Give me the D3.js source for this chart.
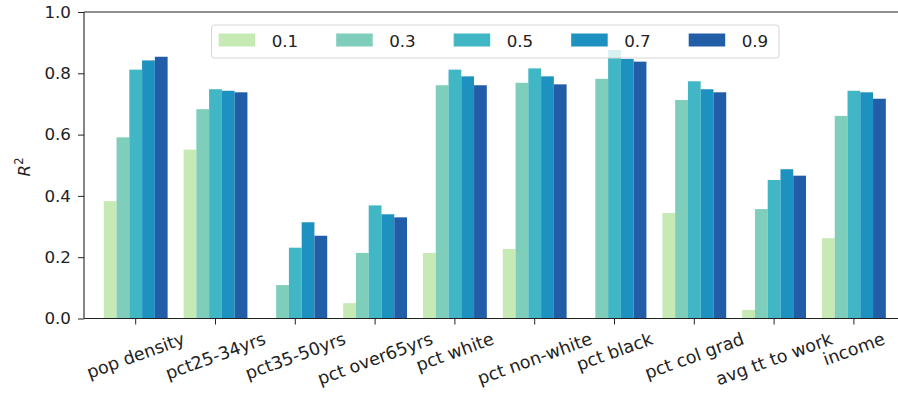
<!DOCTYPE html>
<html>
<head>
<meta charset="utf-8">
<script src="https://cdn.jsdelivr.net/npm/d3@7"></script>
<style>
  html, body { margin: 0; padding: 0; background: #fff; }
  svg { display: block; font-family: "DejaVu Sans", sans-serif; }
</style>
</head>
<body>
<svg id="chart" width="898" height="396"></svg>
<script>
// Variables on the x axis
const categories = ["pop density", "pct25-34yrs", "pct35-50yrs", "pct over65yrs", "pct white",
  "pct non-white", "pct black", "pct col grad", "avg tt to work", "income"];
// Series keys (legend labels)
const seriesKeys = ["0.1", "0.3", "0.5", "0.7", "0.9"];
// R² per series, one value per category
const s01 = [0.383, 0.551, 0.0, 0.050, 0.214, 0.227, 0.0, 0.344, 0.028, 0.262];
const s03 = [0.591, 0.683, 0.109, 0.214, 0.761, 0.769, 0.782, 0.713, 0.357, 0.661];
const s05 = [0.812, 0.748, 0.231, 0.369, 0.812, 0.816, 0.876, 0.774, 0.452, 0.743];
const s07 = [0.842, 0.743, 0.314, 0.340, 0.790, 0.790, 0.847, 0.748, 0.487, 0.738];
const s09 = [0.854, 0.738, 0.270, 0.330, 0.761, 0.764, 0.838, 0.738, 0.466, 0.717];
const yTicks = [0.0, 0.2, 0.4, 0.6, 0.8, 1.0];
const colors = ["#c7e9b4", "#7fcdbb", "#41b6c4", "#1d91c0", "#225ea8"];

const seriesValues = [s01, s03, s05, s07, s09];

const svg = d3.select("#chart");
const axLeft = 84, axRight = 898, axTop = 12, axBottom = 318.5;
const tickFont = 16.7, labelFont = 17.5;

const x = d3.scaleBand().domain(categories).range([95.8, 893.8]).paddingInner(0).paddingOuter(0);
const xs = d3.scaleBand().domain(seriesKeys)
  .range([x.bandwidth() * 0.1, x.bandwidth() * 0.9]).padding(0);
const y = d3.scaleLinear().domain([0, 1]).range([axBottom, axTop]);

// Bars
const groups = svg.append("g").selectAll("g")
  .data(categories).join("g")
  .attr("transform", d => `translate(${x(d)},0)`);

groups.selectAll("rect")
  .data((c, ci) => seriesKeys.map((k, si) => ({ k, si, v: seriesValues[si][ci] })))
  .join("rect")
  .filter(d => d.v > 0)
  .attr("x", d => xs(d.k))
  .attr("width", xs.bandwidth())
  .attr("y", d => y(d.v))
  .attr("height", d => y(0) - y(d.v))
  .attr("fill", d => colors[d.si]);

// Spines
const spine = svg.append("g").attr("stroke", "#222").attr("stroke-width", 1.1);
spine.append("line").attr("x1", axLeft).attr("x2", axRight).attr("y1", axTop).attr("y2", axTop);
spine.append("line").attr("x1", axLeft).attr("x2", axRight).attr("y1", axBottom).attr("y2", axBottom);
spine.append("line").attr("x1", axLeft).attr("x2", axLeft).attr("y1", axTop).attr("y2", axBottom);

// Y axis
const yAxis = d3.axisLeft(y).tickValues(yTicks).tickFormat(d3.format(".1f")).tickSize(6).tickPadding(7);
const gy = svg.append("g").attr("transform", `translate(${axLeft},0)`).call(yAxis);
gy.select(".domain").remove();
gy.selectAll("line").attr("stroke", "#222");
gy.selectAll("text").attr("font-size", tickFont).attr("fill", "#222").attr("font-family", "DejaVu Sans");

// X axis ticks
const gx = svg.append("g").attr("transform", `translate(0,${axBottom})`)
  .call(d3.axisBottom(x).tickSize(6).tickFormat(""));
gx.select(".domain").remove();
gx.selectAll("line").attr("stroke", "#222");

// Rotated x labels: rotated bounding box centred on the tick
const rot = 20 * Math.PI / 180;
const labels = svg.append("g");
categories.forEach(c => {
  const t = labels.append("text")
    .attr("font-size", labelFont).attr("fill", "#222")
    .attr("text-anchor", "middle").attr("dominant-baseline", "central")
    .text(c);
  const w = t.node().getComputedTextLength();
  const h = labelFont * 1.16;
  const bh = w * Math.sin(rot) + h * Math.cos(rot);
  const cx = x(c) + x.bandwidth() / 2;
  const cy = axBottom + 10 + bh / 2;
  t.attr("transform", `translate(${cx},${cy}) rotate(-20)`);
});

// Y label R²
const yl = svg.append("text")
  .attr("transform", "translate(30,167) rotate(-90)")
  .attr("text-anchor", "middle").attr("font-size", tickFont).attr("fill", "#222");
yl.append("tspan").attr("font-style", "italic").text("R");
yl.append("tspan").attr("font-size", 11.5).attr("dy", -7).text("2");

// Legend
const legend = svg.append("g");
legend.append("rect")
  .attr("x", 211.5).attr("y", 25).attr("width", 567.5).attr("height", 33)
  .attr("rx", 3).attr("fill", "#fff").attr("fill-opacity", 0.8)
  .attr("stroke", "#d6d6d6").attr("stroke-width", 1);
seriesKeys.forEach((k, i) => {
  const lx = 218.7 + 117.5 * i;
  legend.append("rect").attr("x", lx).attr("y", 33.5).attr("width", 36.5).attr("height", 13)
    .attr("fill", colors[i]);
  legend.append("text").attr("x", lx + 53).attr("y", 41)
    .attr("dominant-baseline", "central").attr("font-size", tickFont).attr("fill", "#222").text(k);
});
</script>
</body>
</html>
